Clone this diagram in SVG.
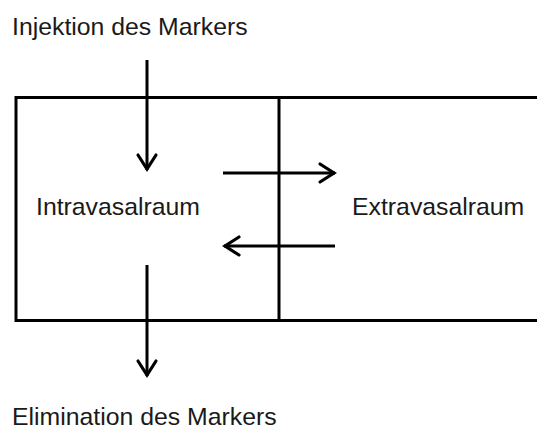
<svg xmlns="http://www.w3.org/2000/svg" width="537" height="429" viewBox="0 0 537 429">
<style>
.t{font-family:"Liberation Sans",Arial,sans-serif;font-size:24.8px;fill:#1a1a1a}
.b{fill:none;stroke:#000;stroke-width:3}
.c{fill:none;stroke:#000;stroke-width:3}
</style>
<defs>
<marker id="ah" viewBox="-18 -12 21 24" refX="0" refY="0" markerWidth="21" markerHeight="24" markerUnits="userSpaceOnUse" orient="auto">
<path d="M-15,-9 L-1,0 L-15,9" fill="none" stroke="#000" stroke-width="3.2" stroke-linecap="round" stroke-linejoin="miter"/>
</marker>
</defs>
<rect width="537" height="429" fill="#fff"/>
<g id="compartments">
<path class="b" d="M540,97.5 H16 V320.5 H540"/>
<line class="b" x1="279" y1="97.5" x2="279" y2="320.5"/>
</g>
<g id="injektion"><text class="t" x="12" y="35">Injektion des Markers</text></g>
<g id="intravasalraum"><text class="t" x="36" y="215">Intravasalraum</text></g>
<g id="extravasalraum"><text class="t" x="352" y="215">Extravasalraum</text></g>
<g id="elimination"><text class="t" x="12" y="425">Elimination des Markers</text></g>
<g id="connectors">
<line class="c" x1="147" y1="60" x2="147" y2="170" marker-end="url(#ah)"/>
<line class="c" x1="223" y1="173" x2="335" y2="173" marker-end="url(#ah)"/>
<line class="c" x1="335" y1="246" x2="224" y2="246" marker-end="url(#ah)"/>
<line class="c" x1="147" y1="265" x2="147" y2="376" marker-end="url(#ah)"/>
</g>
</svg>
